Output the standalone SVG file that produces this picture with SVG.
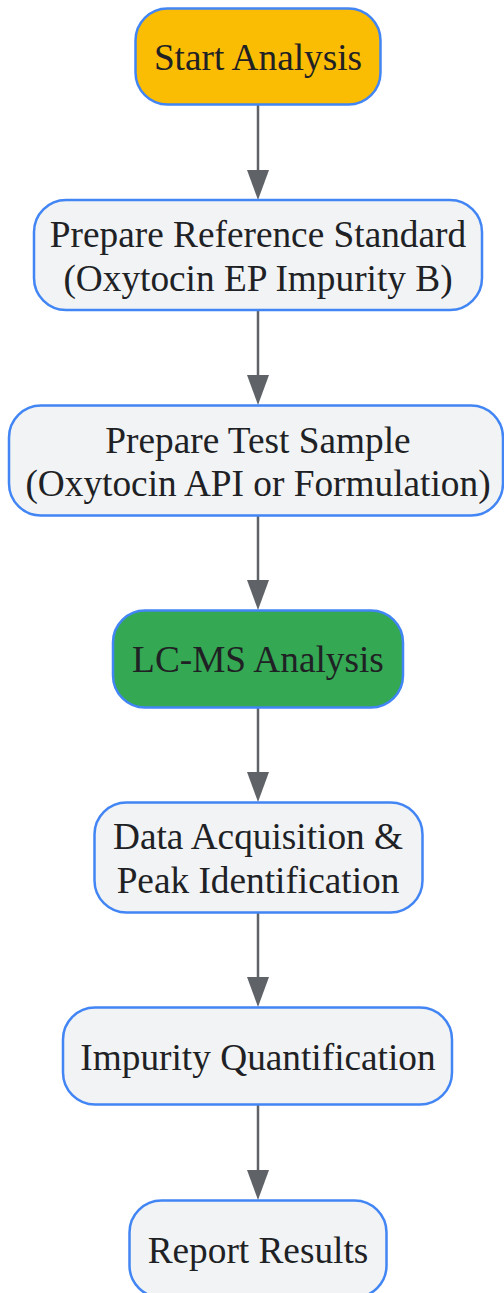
<svg xmlns="http://www.w3.org/2000/svg" width="504" height="1293" viewBox="0 0 504 1293">
<style>
.n rect{stroke:#4285F4;stroke-width:2.5;}
.lt{fill:#F1F3F4;}
.t{font-family:"Liberation Serif","Times New Roman",serif;font-size:37.3px;fill:#202124;text-anchor:middle;}
.c line{stroke:#5F6368;stroke-width:2.5;}
.c path{fill:#5F6368;}
</style>
<rect width="504" height="1293" fill="#ffffff"/>
<g class="c" id="connectors">
<line x1="258" y1="105" x2="258" y2="172"/><path d="M247,170 L269,170 L258,200 Z"/>
<line x1="258" y1="310" x2="258" y2="377"/><path d="M247,375 L269,375 L258,405 Z"/>
<line x1="258" y1="516" x2="258" y2="582"/><path d="M247,580 L269,580 L258,610 Z"/>
<line x1="258" y1="708" x2="258" y2="774"/><path d="M247,772 L269,772 L258,802 Z"/>
<line x1="258" y1="913" x2="258" y2="979"/><path d="M247,977 L269,977 L258,1007 Z"/>
<line x1="258" y1="1105" x2="258" y2="1172"/><path d="M247,1170 L269,1170 L258,1200 Z"/>
</g>
<g class="n" id="start"><rect x="135.5" y="8.5" width="245" height="96" rx="32" fill="#FBBC04"/><text class="t" x="258" y="70">Start Analysis</text></g>
<g class="n" id="refstd"><rect class="lt" x="34" y="200" width="448" height="110" rx="32"/><text class="t" x="258" y="247">Prepare Reference Standard</text><text class="t" x="258" y="291">(Oxytocin EP Impurity B)</text></g>
<g class="n" id="testsample"><rect class="lt" x="9" y="405.5" width="494" height="110" rx="32"/><text class="t" x="258" y="453">Prepare Test Sample</text><text class="t" x="258" y="496">(Oxytocin API or Formulation)</text></g>
<g class="n" id="lcms"><rect x="113" y="610.5" width="290" height="97" rx="32" fill="#34A853"/><text class="t" x="258" y="672">LC-MS Analysis</text></g>
<g class="n" id="dataacq"><rect class="lt" x="94.5" y="802.5" width="328" height="110" rx="32"/><text class="t" x="258" y="849">Data Acquisition &amp;</text><text class="t" x="258" y="893">Peak Identification</text></g>
<g class="n" id="quant"><rect class="lt" x="63" y="1007.5" width="389" height="97" rx="32"/><text class="t" x="258" y="1070">Impurity Quantification</text></g>
<g class="n" id="report"><rect class="lt" x="129.5" y="1200.5" width="257" height="97" rx="32"/><text class="t" x="258" y="1263">Report Results</text></g>
</svg>
